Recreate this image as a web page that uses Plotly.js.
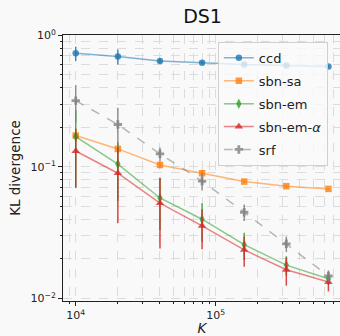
<!DOCTYPE html>
<html>
<head>
<meta charset="utf-8">
<script src="https://cdn.plot.ly/plotly-3.0.1.min.js"></script>
<style>
html,body{margin:0;padding:0;overflow:hidden;background:#f9f9f9;}
#chart{width:341px;height:336px;}
</style>
</head>
<body>
<div id="chart"></div>
<script>
const K = [10000, 20000, 40000, 80000, 160000, 320000, 640000];

const ccd      = [0.73, 0.69, 0.64, 0.62, 0.60, 0.59, 0.58];
const ccdErr   = [0.09, 0.09, 0.03, 0.02, 0.01, 0.01, 0.01];
const sbnSa    = [0.173, 0.137, 0.1035, 0.0895, 0.0773, 0.0713, 0.068];
const sbnSaErr = [0.02, 0.012, 0.006, 0.005, 0.002, 0.002, 0.001];
const sbnEm    = [0.17, 0.105, 0.058, 0.040, 0.0256, 0.0179, 0.0141];
const sbnEmErr = [0.10, 0.05, 0.025, 0.013, 0.006, 0.003, 0.0015];
const sbnEmA   = [0.132, 0.0895, 0.053, 0.0356, 0.0234, 0.0165, 0.0133];
const sbnEmAErr= [0.063, 0.052, 0.029, 0.012, 0.006, 0.004, 0.002];
const srf      = [0.319, 0.21, 0.1256, 0.078, 0.0452, 0.026, 0.0148];
const srfErr   = [0.10, 0.07, 0.015, 0.012, 0.0065, 0.0035, 0.0015];

const names = ['ccd', 'sbn-sa', 'sbn-em', 'sbn-em-<i>α</i>', 'srf'];
const series = [ccd, sbnSa, sbnEm, sbnEmA, srf];
const errors = [ccdErr, sbnSaErr, sbnEmErr, sbnEmAErr, srfErr];
const rgb = ['31,119,180', '255,127,14', '44,160,44', '214,39,40', '127,127,127'];
const symbols = ['circle', 'square', 'diamond-tall', 'triangle-up', 'cross'];
const msize = [6.5, 6.5, 7.5, 7.5, 7];
const dashes = ['solid', 'solid', 'solid', 'solid', 'dash'];

const traces = series.map((y, i) => ({
  x: K, y: y, name: names[i], type: 'scatter', mode: 'lines+markers',
  legendgroup: 'g' + i,
  line: {color: 'rgba(' + rgb[i] + ',0.55)', width: 1.5, dash: dashes[i]},
  marker: {color: 'rgba(' + rgb[i] + ',0.8)', symbol: symbols[i], size: msize[i]},
  error_y: {type: 'data', array: errors[i], visible: true, color: 'rgba(' + rgb[i] + ',0.85)', thickness: 1.5, width: 0}
}));

function minorVals(lo, hi) {
  const v = [];
  for (let e = lo; e <= hi; e++) for (let m = 2; m <= 9; m++) v.push(m * Math.pow(10, e));
  return v;
}

const gridCol = '#dcdcdc';
const layout = {
  width: 341, height: 336,
  margin: {l: 63, r: 0, t: 35, b: 35},
  paper_bgcolor: '#f9f9f9', plot_bgcolor: '#f9f9f9',
  font: {family: 'DejaVu Sans', color: '#222'},
  title: {text: 'DS1', font: {size: 19, color: '#111'}, x: 0.594, xanchor: 'center', y: 0.95, yanchor: 'middle'},
  showlegend: true,
  legend: {x: 0.557, y: 0.974, xanchor: 'left', yanchor: 'top', bgcolor: 'rgba(250,250,250,0.8)',
           bordercolor: '#d0d0d0', borderwidth: 1, font: {size: 13, color: '#222'},
           traceorder: 'grouped', tracegroupgap: 3},
  xaxis: {type: 'log', range: [3.909, 5.896], showline: true, linecolor: '#222', linewidth: 1, mirror: true,
          ticks: 'outside', ticklen: 4, tickcolor: '#222', tickmode: 'array',
          tickvals: [1e4, 1e5], ticktext: ['10<sup>4</sup>', '10<sup>5</sup>'],
          tickfont: {size: 11}, showgrid: true, gridcolor: gridCol, griddash: 'dash', zeroline: false,
          minor: {tickmode: 'array', tickvals: minorVals(3, 5), ticks: 'outside', ticklen: 2, tickcolor: '#222',
                  showgrid: true, gridcolor: gridCol, griddash: 'dash'},
          title: {text: '<i>K</i>', font: {size: 13.5}, standoff: 2}},
  yaxis: {type: 'log', range: [-2.02, 0.003], showline: true, linecolor: '#222', linewidth: 1, mirror: true,
          ticks: 'outside', ticklen: 4, tickcolor: '#222', tickmode: 'array',
          tickvals: [0.01, 0.1, 1], ticktext: ['10<sup>−2</sup>', '10<sup>−1</sup>', '10<sup>0</sup>'],
          tickfont: {size: 11}, showgrid: true, gridcolor: gridCol, griddash: 'dash', zeroline: false,
          minor: {tickmode: 'array', tickvals: minorVals(-3, -1), ticks: 'outside', ticklen: 2, tickcolor: '#222',
                  showgrid: true, gridcolor: gridCol, griddash: 'dash'},
          title: {text: 'KL divergence', font: {size: 13.5}, standoff: 6}}
};

Plotly.newPlot('chart', traces, layout, {displayModeBar: false, staticPlot: true});
</script>
</body>
</html>
